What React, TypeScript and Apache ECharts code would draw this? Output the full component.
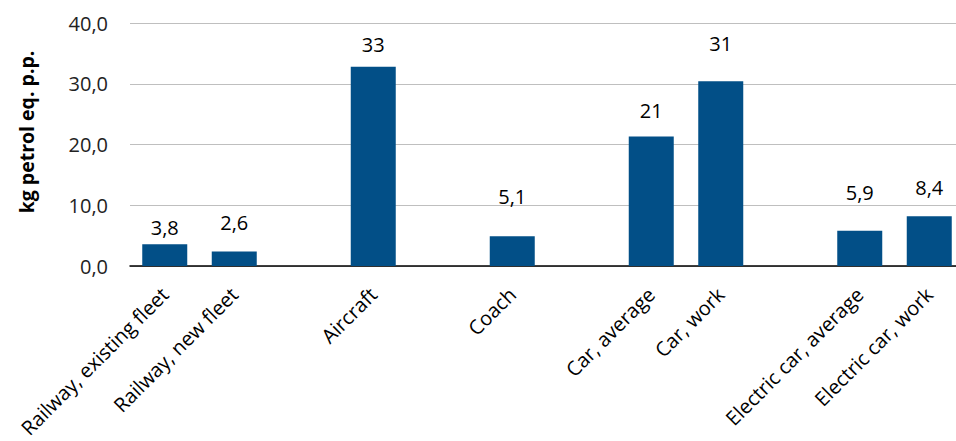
import React, { useEffect, useRef } from "react";
import * as echarts from "echarts";

const categories = [
  "Railway, existing fleet",
  "Railway, new fleet",
  "",
  "Aircraft",
  "",
  "Coach",
  "",
  "Car, average",
  "Car, work",
  "",
  "Electric car, average",
  "Electric car, work",
];
const values: (number | null)[] = [3.6, 2.4, null, 32.8, null, 4.9, null, 21.3, 30.4, null, 5.8, 8.2];
const valueLabels = ["3,8", "2,6", "", "33", "", "5,1", "", "21", "31", "", "5,9", "8,4"];
const yTicks = [0, 10, 20, 30, 40];
const yTitle = "kg petrol eq. p.p.";

// label lift above bar tops (layout only)
const labelGap = [7, 19, 0, 12, 0, 30, 0, 16, 28, 0, 28, 19];

const FONT = "'Open Sans', 'Noto Sans', sans-serif";

export default function App() {
  const ref = useRef<HTMLDivElement>(null);
  useEffect(() => {
    if (!ref.current) return;
    const chart = echarts.init(ref.current, undefined, { renderer: "svg" });
    chart.setOption({
      animation: false,
      textStyle: { fontFamily: FONT },
      grid: { left: 130, right: 8, top: 23, bottom: 175, containLabel: false },
      graphic: [
        {
          type: "text",
          x: 26,
          y: 132,
          rotation: Math.PI / 2,
          style: {
            text: yTitle,
            fontFamily: FONT,
            fontWeight: "bold",
            fontSize: 19.5,
            fill: "#000",
            align: "center",
            verticalAlign: "middle",
          },
        },
      ],
      xAxis: {
        type: "category",
        data: categories,
        axisTick: { show: false },
        axisLine: { lineStyle: { color: "#000", width: 1.5 } },
        axisLabel: {
          interval: 0,
          rotate: 45,
          margin: 25,
          fontSize: 20,
          color: "#000",
          fontFamily: FONT,
        },
      },
      yAxis: {
        type: "value",
        min: yTicks[0],
        max: yTicks[yTicks.length - 1],
        interval: 10,
        axisLine: { show: false },
        axisTick: { show: false },
        splitLine: { lineStyle: { color: "#BFBFBF", width: 1 } },
        axisLabel: {
          margin: 22,
          fontSize: 20,
          color: "#222",
          fontFamily: FONT,
          formatter: (v: number) => v.toFixed(1).replace(".", ","),
        },
      },
      series: [
        {
          type: "bar",
          barWidth: 45,
          itemStyle: { color: "#024F87" },
          data: values.map((v, i) =>
            v == null
              ? "-"
              : {
                  value: v,
                  label: {
                    show: true,
                    position: "top",
                    distance: labelGap[i],
                    formatter: () => valueLabels[i],
                    fontSize: 20,
                    color: "#000",
                    fontFamily: FONT,
                  },
                }
          ),
        },
      ],
    });
    return () => chart.dispose();
  }, []);
  return (
    <div style={{ position: "fixed", left: 0, top: 0, width: 956, height: 441, overflow: "hidden", background: "#fff" }}>
      <div ref={ref} style={{ width: 972, height: 441 }} />
    </div>
  );
}
